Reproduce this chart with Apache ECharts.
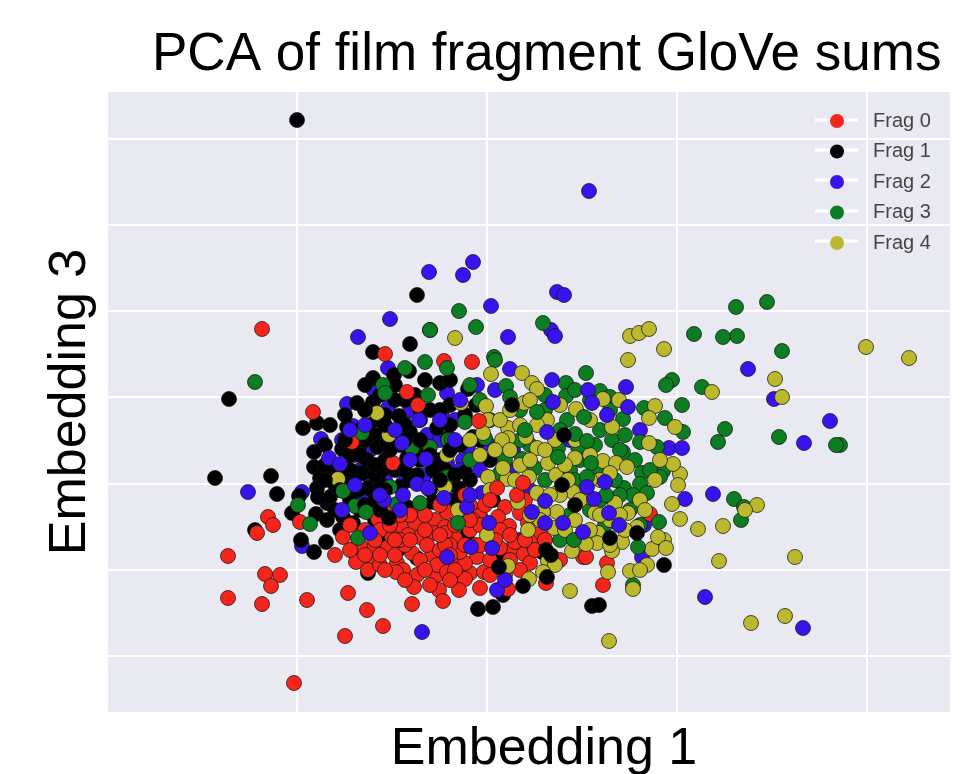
<!DOCTYPE html>
<html><head><meta charset="utf-8">
<style>html,body{margin:0;padding:0;background:#fff}#c{width:970px;height:774px}</style>
<script src="https://cdn.jsdelivr.net/npm/echarts@6/dist/echarts.min.js"></script></head>
<body><div id="c"></div>
<script>
const names = ['Frag 0','Frag 1','Frag 2','Frag 3','Frag 4'];
const colors = ['#f4261c','#000000','#3a12ee','#0c7d20','#bcb92e'];
const xTicks = [0,190,380,570,760];
const yTicks = [56,142,228,315,401,487,573];
const frag0 = [[155,383],[206,300],[161,195],[166,187],[150,179],[121,156],[158,138],[173,137],[164,126],[121,114],[155,108],[200,112],[241,119],[260,102],[238,76],[276,86],[305,108],[187,29],[278,358],[300,320],[311,307],[337,351],[245,270],[286,249],[193,190],[236,175],[228,157],[271,193],[295,184],[308,189],[328,192],[313,175],[328,179],[338,185],[281,165],[305,159],[325,157],[263,155],[250,154],[340,200],[290,149],[347,152],[370,155],[363,139],[377,140],[404,163],[417,158],[423,149],[348,174],[373,197],[398,205],[391,195],[402,186],[413,199],[421,189],[433,179],[408,170],[476,155],[249,150],[266,164],[296,142],[310,137],[330,137],[330,147],[358,133],[358,149],[320,167],[340,140],[289,140],[261,142],[285,175],[301,177],[307,125],[332,122],[336,111],[352,122],[373,124],[401,123],[439,129],[372,196],[423,170],[338,179],[366,192],[353,160],[543,198],[479,155],[365,350],[500,149],[496,127],[343,167],[363,182],[383,177],[393,164],[378,207],[313,202],[288,202],[273,182],[253,167],[268,172],[288,157],[298,167],[313,152],[333,162],[348,142],[368,167],[383,152],[398,137],[413,142],[428,162],[393,182],[373,187],[353,202],[333,207],[318,182],[303,197],[283,187],[258,182],[243,187],[338,167],[363,207],[418,212],[438,172],[453,152],[293,172],[273,147],[243,162],[258,157],[273,157],[288,172],[303,172],[318,142],[333,177],[343,157],[358,167],[373,167],[388,172],[403,177],[363,192],[348,187],[318,197],[293,197],[278,202],[383,137],[403,152],[418,172],[343,132],[323,127],[298,132],[278,142]];
const frag0Top = [[372,291],[390,224],[410,217],[416,229],[358,217],[383,212]];
const frag1 = [[190,592],[122,313],[108,234],[164,236],[170,218],[196,284],[210,289],[185,199],[192,216],[209,198],[220,192],[148,182],[194,172],[207,160],[219,170],[310,417],[303,368],[266,360],[371,103],[386,105],[485,106],[492,107],[557,147],[266,334],[287,337],[302,341],[250,309],[266,310],[262,290],[278,297],[292,296],[303,280],[268,277],[252,265],[235,263],[218,267],[207,260],[207,245],[213,234],[210,224],[220,209],[243,235],[240,285],[260,252],[275,242],[261,224],[273,229],[300,254],[326,242],[310,237],[333,252],[333,329],[330,284],[341,274],[320,265],[306,202],[326,210],[283,194],[236,195],[246,189],[275,175],[248,164],[290,164],[250,239],[223,215],[233,237],[211,215],[270,265],[280,269],[256,239],[293,225],[300,205],[316,205],[343,332],[361,323],[343,307],[369,307],[366,275],[358,240],[351,224],[383,252],[386,212],[396,154],[261,139],[310,154],[348,134],[291,162],[360,177],[396,117],[435,160],[238,247],[288,277],[313,292],[223,242],[251,222],[268,212],[288,242],[258,272],[313,267],[298,312],[333,302],[223,287],[238,267],[253,282],[268,292],[288,312],[308,317],[323,302],[343,287],[353,267],[338,242],[293,267],[278,252],[303,232],[288,207],[243,212],[228,227],[218,247],[243,257],[268,237],[313,252],[323,222],[253,202],[268,192],[233,182],[348,212],[363,232],[373,272],[358,297],[313,302],[298,287],[273,317],[258,327],[288,327],[318,332],[238,297]];
const frag1Mid = [[238,272],[253,257],[268,247],[283,262],[298,272],[313,272],[278,287],[258,302],[243,242],[233,222],[258,207],[278,222],[298,242],[323,257],[343,262],[348,237],[333,232],[218,232],[228,202],[273,202]];
const frag2 = [[141,220],[214,273],[235,272],[247,257],[263,262],[260,237],[240,308],[281,344],[266,323],[246,286],[281,304],[296,295],[256,217],[195,220],[195,166],[296,229],[361,265],[340,319],[370,327],[388,322],[403,343],[380,269],[406,262],[340,249],[356,252],[375,219],[338,215],[321,224],[320,277],[335,300],[482,521],[366,450],[356,437],[322,440],[283,393],[251,375],[450,420],[457,417],[384,406],[401,375],[444,382],[448,376],[323,382],[641,343],[667,313],[723,291],[697,269],[696,84],[598,115],[315,80],[606,218],[578,213],[562,264],[575,264],[533,282],[537,187],[535,155],[263,302],[243,232],[288,247],[333,272],[348,292],[318,237],[278,232],[353,242],[373,242],[403,242],[423,222],[463,272],[413,172],[303,302],[253,242]];
const frag3 = [[148,330],[660,410],[629,405],[630,376],[616,375],[587,378],[675,361],[672,275],[733,267],[729,267],[618,283],[611,270],[595,325],[565,332],[559,327],[387,355],[369,385],[352,401],[323,382],[436,389],[276,327],[278,319],[321,317],[255,279],[191,207],[248,206],[290,208],[313,209],[339,235],[305,264],[323,265],[298,344],[318,350],[340,344],[283,225],[341,272],[479,339],[459,329],[459,316],[493,321],[503,315],[575,307],[537,304],[558,294],[516,293],[576,280],[533,270],[550,265],[505,272],[516,260],[471,265],[535,239],[556,241],[553,235],[517,224],[533,228],[526,217],[540,219],[498,187],[358,290],[399,326],[388,352],[415,253],[393,239],[428,244],[341,235],[378,274],[451,264],[460,292],[345,272],[403,315],[503,245],[627,213],[634,192],[526,127],[637,205],[413,302],[438,317],[423,267],[453,282],[438,232],[463,242],[488,267],[493,282],[518,277],[508,232],[483,202],[463,197],[453,172],[523,202],[543,242],[373,312],[363,327],[398,252],[383,292],[363,252],[503,302],[468,322],[483,312],[438,302],[413,272],[473,252],[493,242],[513,262],[528,252],[468,232],[493,212],[533,187],[513,217]];
const frag4 = [[759,365],[802,354],[668,333],[675,315],[521,352],[557,363],[523,376],[532,379],[542,383],[348,374],[384,338],[605,320],[548,306],[688,155],[644,89],[678,96],[502,71],[612,151],[650,207],[638,202],[616,186],[591,183],[573,193],[565,208],[463,121],[526,123],[557,172],[545,163],[551,175],[523,141],[540,147],[501,140],[401,146],[441,151],[415,339],[425,329],[430,323],[379,306],[354,309],[417,309],[381,292],[376,279],[401,284],[401,274],[395,272],[440,292],[430,287],[419,275],[448,272],[469,303],[496,313],[512,312],[505,285],[542,294],[568,285],[542,269],[430,264],[441,249],[468,254],[449,237],[422,235],[400,233],[381,235],[396,244],[496,251],[509,249],[520,245],[573,238],[571,227],[566,248],[508,209],[521,199],[488,199],[450,200],[436,200],[466,220],[430,219],[411,210],[447,184],[491,179],[380,177],[480,215],[490,169],[465,161],[479,168],[515,170],[559,164],[505,161],[530,185],[503,239],[461,232],[450,219],[422,133],[351,202],[421,182],[448,147],[433,192],[436,140],[259,301],[282,277],[231,233],[340,257],[338,225],[270,299],[413,287],[453,307],[483,292],[458,247],[483,257],[438,262],[413,247],[493,232],[473,212],[453,217],[423,197],[503,192],[483,182],[458,182],[533,212],[548,232],[553,252],[393,292],[403,302],[388,262],[373,257],[363,272],[518,182],[503,167],[533,142],[423,312],[403,262],[443,217],[468,192],[493,197],[538,202],[513,197],[483,232],[468,272],[423,252],[383,222],[408,232]];
const frag1Top = [[282,194],[392,145],[416,126],[440,135],[444,157],[468,207],[405,307],[457,277],[455,227],[530,179],[439,162],[503,174]];
const frag2Top = [[360,205],[382,189],[364,165],[385,164],[263,179],[390,122],[476,180],[456,189],[438,189],[425,200],[440,280],[500,297],[487,213],[438,211],[502,199],[512,187],[498,230],[480,225],[445,332],[481,322],[519,325],[521,305],[485,309],[446,310],[340,155],[398,132],[222,254],[233,248],[235,202],[277,212],[296,217],[310,228],[321,224],[319,253],[337,214],[295,269],[312,292],[243,282],[258,287],[288,282],[303,252],[333,292],[348,272],[273,217],[248,227],[293,202],[363,217],[353,312]];
const frag3Top = [[477,295],[468,278],[480,271],[451,255],[484,249],[418,282],[430,300],[351,189],[251,174],[259,200],[203,188],[236,221],[480,235],[499,217],[467,172],[552,190],[531,165]];

const layers = [[2,frag2],[1,frag1],[0,frag0],[3,frag3],[4,frag4],[1,frag1Mid],[0,frag0Top],[3,frag3Top],[2,frag2Top],[1,frag1Top]];
const chart = echarts.init(document.getElementById('c'), null, {renderer:'canvas'});
const font = '"Liberation Sans", Arial, sans-serif';
const legendRows = [120,150,180,211,241];
chart.setOption({
  animation:false,
  backgroundColor:'#ffffff',
  title:{text:'PCA of film fragment GloVe sums',left:147,top:24,textStyle:{fontFamily:font,fontSize:53,fontWeight:'normal',color:'#000'}},
  grid:{left:107,top:92,width:843,height:620,backgroundColor:'#e9e9f2',show:true,borderWidth:0,outerBoundsMode:'none',containLabel:false},
  xAxis:{type:'value',min:0,max:843,interval:190,name:'Embedding 1',nameLocation:'middle',nameGap:12,
    nameTextStyle:{fontFamily:font,fontSize:52,color:'#000',padding:[0,0,0,31]},
    axisLine:{show:false},axisTick:{show:false,customValues:xTicks},axisLabel:{show:false},
    splitLine:{show:true,lineStyle:{color:'#ffffff',width:2}}},
  yAxis:{type:'value',min:0,max:620,name:'Embedding 3',nameLocation:'middle',nameGap:10,
    nameTextStyle:{fontFamily:font,fontSize:52,color:'#000'},
    axisLine:{show:false},axisTick:{show:false,customValues:yTicks},axisLabel:{show:false},
    splitLine:{show:true,lineStyle:{color:'#ffffff',width:2}}},
  legend:{data:names,left:825,top:106,orient:'vertical',itemWidth:62,itemHeight:14,itemGap:10.5,icon:'circle',
    itemStyle:{borderWidth:0},
    textStyle:{fontFamily:font,fontSize:20,lineHeight:14,color:'#444'}},
  graphic:legendRows.map(y=>({type:'rect',z:1,silent:true,shape:{x:815,y:y-1.5,width:43,height:3},style:{fill:'#ffffff'}})),
  series:layers.map(([i,d])=>({type:'scatter',name:names[i],data:d,symbol:'circle',symbolSize:15,z:2,
    itemStyle:{color:colors[i],borderColor:'rgba(20,20,20,0.75)',borderWidth:1,opacity:1}}))
});
</script></body></html>
